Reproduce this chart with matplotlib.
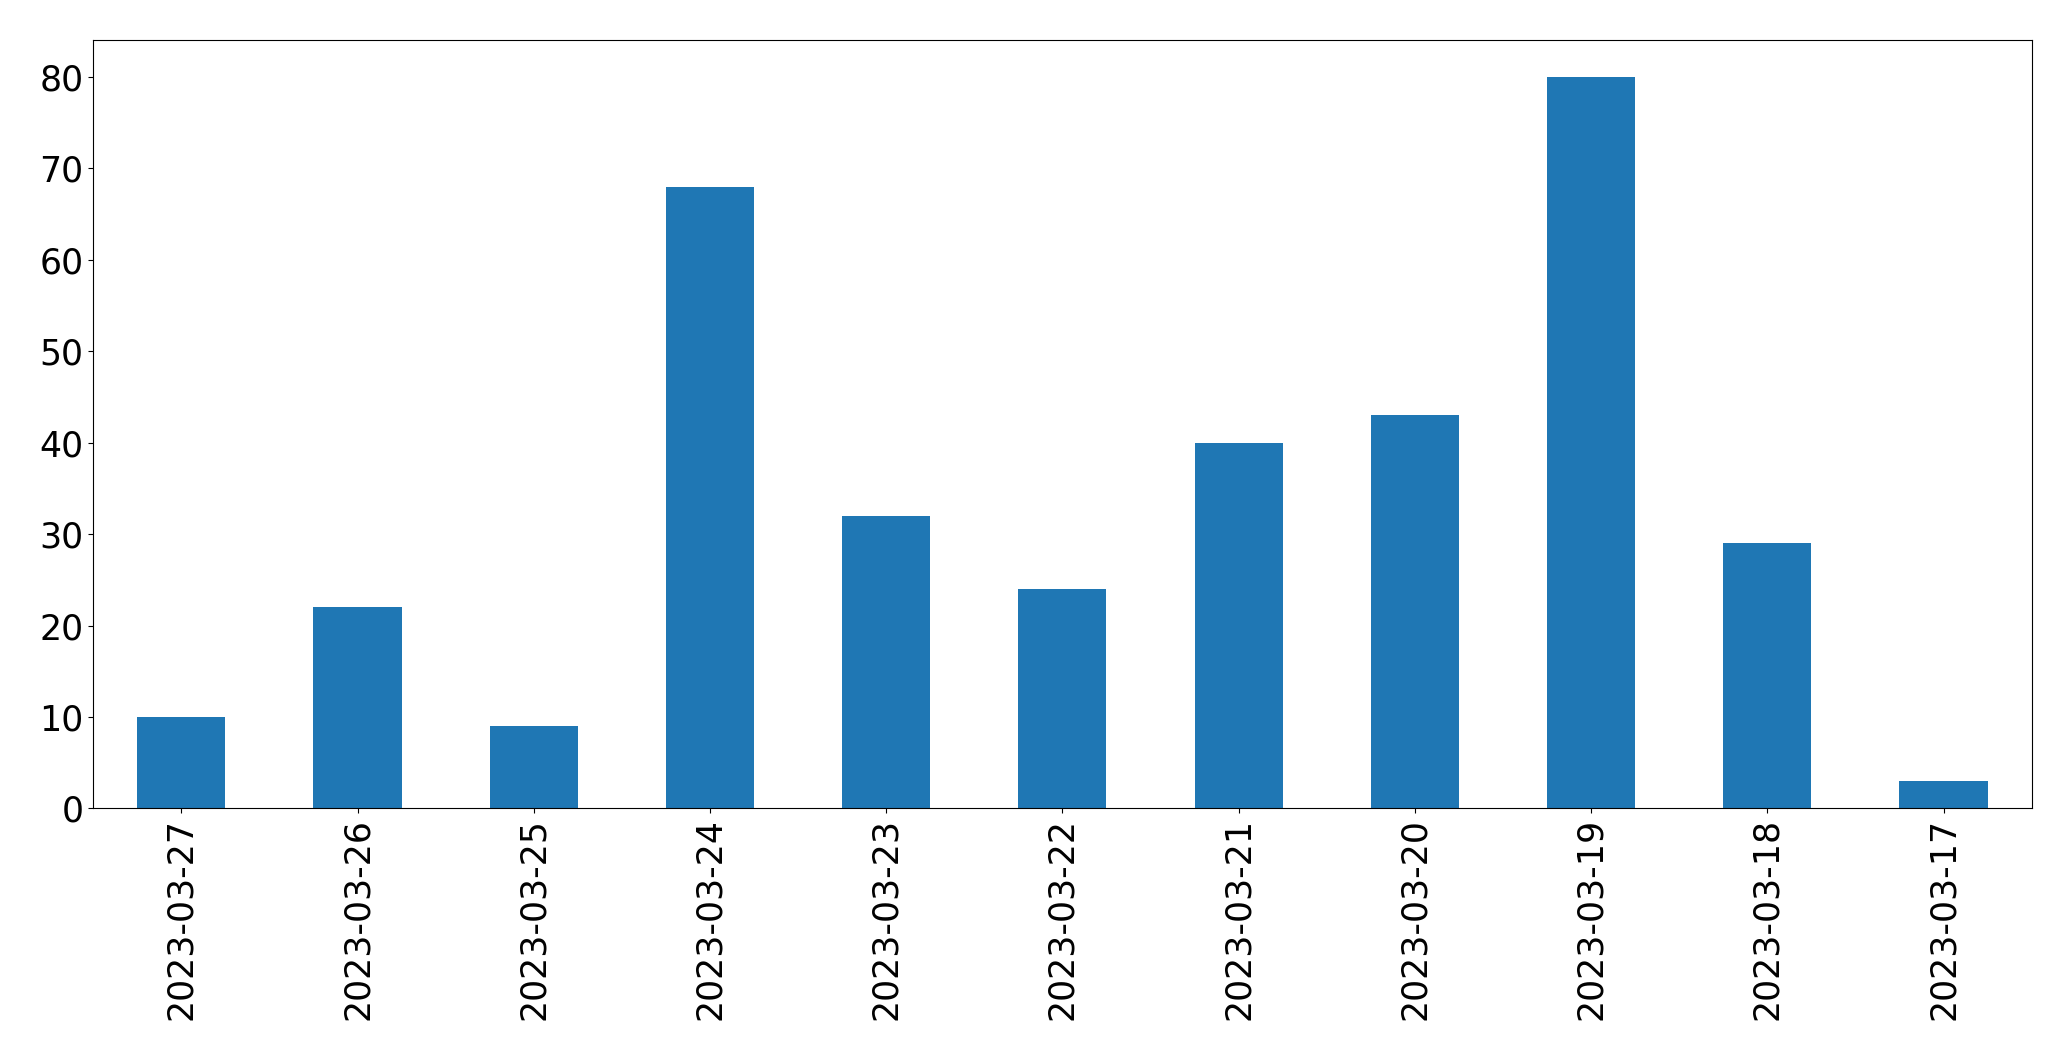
import matplotlib
matplotlib.use("Agg")
import matplotlib.pyplot as plt
import pandas as pd

dates = ["2023-03-27", "2023-03-26", "2023-03-25", "2023-03-24", "2023-03-23", "2023-03-22",
         "2023-03-21", "2023-03-20", "2023-03-19", "2023-03-18", "2023-03-17"]
counts = [10, 22, 9, 68, 32, 24, 40, 43, 80, 29, 3]

s = pd.Series(counts, index=dates)

fig, ax = plt.subplots(figsize=(20.71, 10.61), dpi=100)
s.plot(kind="bar", ax=ax, color="#1f77b4", width=0.5)
ax.tick_params(axis="both", labelsize=25)
ax.set_yticks(range(0, 81, 10))
fig.subplots_adjust(left=0.045, right=0.981, top=0.962, bottom=0.238)
fig.savefig("out.png", dpi=100)
